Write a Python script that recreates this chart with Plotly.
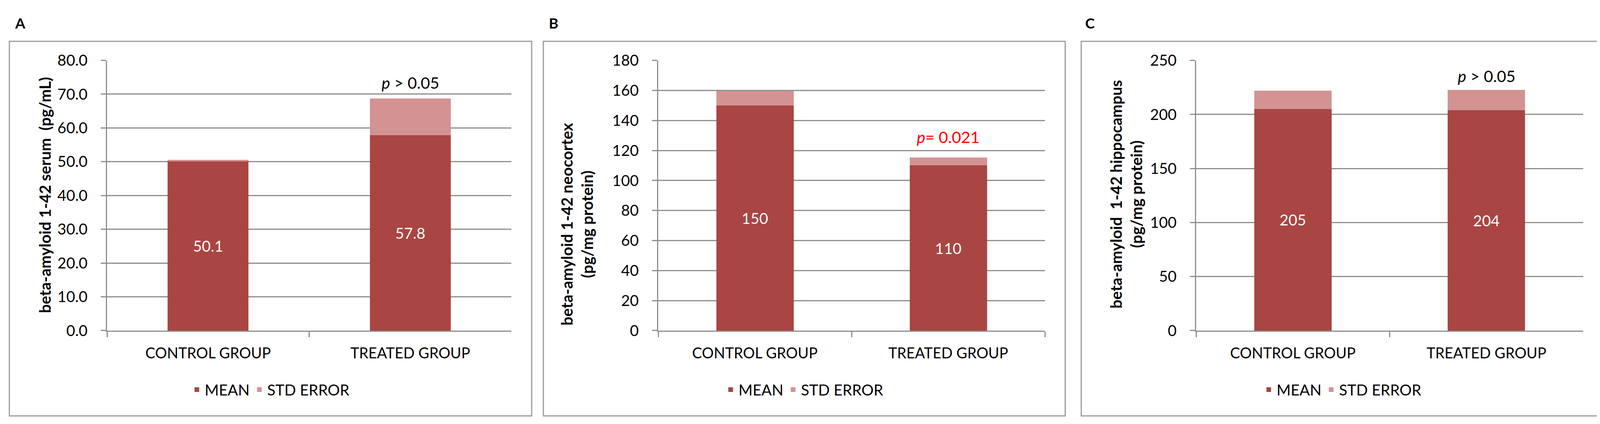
import plotly.graph_objects as go

W, H = 4110, 1085

categories = ["CONTROL GROUP", "TREATED GROUP"]

# Panel A: serum (pg/mL)
a_mean = [50.1, 57.8]
a_se = [0.5, 10.9]
# Panel B: neocortex (pg/mg protein)
b_mean = [150, 110]
b_se = [9.6, 5.3]
# Panel C: hippocampus (pg/mg protein)
c_mean = [205, 204]
c_se = [17.1, 18.9]

a_ticks = [0, 10, 20, 30, 40, 50, 60, 70, 80]
b_ticks = [0, 20, 40, 60, 80, 100, 120, 140, 160, 180]
c_ticks = [0, 50, 100, 150, 200, 250]

panel_letters = ["A", "B", "C"]
y_titles = [
    "beta-amyloid 1-42 serum  (pg/mL)",
    "beta-amyloid 1-42 neocortex<br>(pg/mg protein)",
    "beta-amyloid  1-42 hippocampus<br>(pg/mg protein)",
]
p_texts = ["<i>p</i> > 0.05", "<i>p</i>= 0.021", "<i>p</i> > 0.05"]
p_colors = ["black", "red", "black"]
p_y = [73.4, 129, 235.5]

MEAN_COLOR = "#A94543"
SE_COLOR = "#D39393"
GRID = "#8E8E8E"
FONT = "Lato"

def px_x(v):
    return v / W

def px_y(v):
    return 1 - v / H

# layout geometry (pixels)
plot_x = [(266, 1301), (1677, 2667), (3054, 4045)]
panel_box = [(16, 1353), (1383, 2719), (2760, 4097)]
plot_top, plot_bottom = 128, 850
letter_x = [43, 1409, 2782]
title_x = [107, 1469, 2875]
title_y = [488, 566, 486]

fig = go.Figure()

means = [a_mean, b_mean, c_mean]
ses = [a_se, b_se, c_se]
ticks = [a_ticks, b_ticks, c_ticks]
fmts = [".1f", ".0f", ".0f"]
legends = ["legend", "legend2", "legend3"]

for i in range(3):
    xa = "x" if i == 0 else f"x{i+1}"
    ya = "y" if i == 0 else f"y{i+1}"
    fig.add_trace(go.Bar(
        x=categories, y=means[i], name="MEAN", marker=dict(color=MEAN_COLOR, line=dict(width=0)),
        texttemplate="%{y:" + fmts[i] + "}", textposition="inside", insidetextanchor="middle",
        textangle=0, textfont=dict(color="white", size=39, family=FONT),
        xaxis=xa, yaxis=ya, legend=legends[i],
    ))
    fig.add_trace(go.Bar(
        x=categories, y=ses[i], name="STD ERROR", marker=dict(color=SE_COLOR, line=dict(width=0)),
        xaxis=xa, yaxis=ya, legend=legends[i],
    ))

layout = dict(
    width=W, height=H, autosize=False,
    margin=dict(l=0, r=0, t=0, b=0),
    paper_bgcolor="white", plot_bgcolor="white",
    barmode="stack", bargap=0.6,
    font=dict(family=FONT, size=37, color="black"),
    showlegend=True,
)

for i in range(3):
    sfx = "" if i == 0 else str(i + 1)
    x0, x1 = plot_x[i]
    layout["xaxis" + sfx] = dict(
        domain=[px_x(x0), px_x(x1)], anchor="y" + sfx,
        showline=True, linecolor=GRID, linewidth=3,
        ticks="outside", tickson="boundaries", ticklen=14, tickwidth=3, tickcolor=GRID,
        showgrid=False, tickfont=dict(size=38, family=FONT, color="black"),
        ticklabelstandoff=22, fixedrange=True,
    )
    layout["yaxis" + sfx] = dict(
        domain=[px_y(plot_bottom), px_y(plot_top)], anchor="x" + sfx,
        range=[ticks[i][0], ticks[i][-1]], tickvals=ticks[i], tickformat=fmts[i],
        showline=True, linecolor=GRID, linewidth=3,
        ticks="outside", ticklen=13, tickwidth=3, tickcolor=GRID,
        showgrid=True, gridcolor=GRID, gridwidth=3, zeroline=False,
        tickfont=dict(size=39, family=FONT, color="black"),
        ticklabelstandoff=26, fixedrange=True,
    )
    cx = (panel_box[i][0] + panel_box[i][1]) / 2
    layout[legends[i]] = dict(
        orientation="h", x=px_x(cx), xanchor="center", y=px_y(1008), yanchor="middle",
        font=dict(size=39, family=FONT, color="black"), bgcolor="rgba(0,0,0,0)",
        itemwidth=30, traceorder="normal",
    )

fig.update_layout(**layout)

shapes = []
annotations = []
for i in range(3):
    bx0, bx1 = panel_box[i]
    shapes.append(dict(type="rect", xref="paper", yref="paper",
                       x0=px_x(bx0), x1=px_x(bx1), y0=px_y(1078), y1=px_y(77),
                       line=dict(color="#9A9A9A", width=3), fillcolor="rgba(0,0,0,0)", layer="below"))
    annotations.append(dict(text="<b>" + panel_letters[i] + "</b>", xref="paper", yref="paper",
                            x=px_x(letter_x[i]), y=px_y(28), xanchor="center", yanchor="middle",
                            showarrow=False, font=dict(size=37, family=FONT, color="black")))
    annotations.append(dict(text="<b>" + y_titles[i] + "</b>", xref="paper", yref="paper",
                            x=px_x(title_x[i]), y=px_y(title_y[i]), xanchor="center", yanchor="middle",
                            textangle=-90, showarrow=False,
                            font=dict(size=40, family=FONT, color="black")))
    sfx = "" if i == 0 else str(i + 1)
    annotations.append(dict(text=p_texts[i], xref="x" + sfx, yref="y" + sfx,
                            x=categories[1], y=p_y[i], xanchor="center", yanchor="middle",
                            showarrow=False, font=dict(size=41, family=FONT, color=p_colors[i])))

fig.update_layout(shapes=shapes, annotations=annotations)

fig.write_html("out.html")
